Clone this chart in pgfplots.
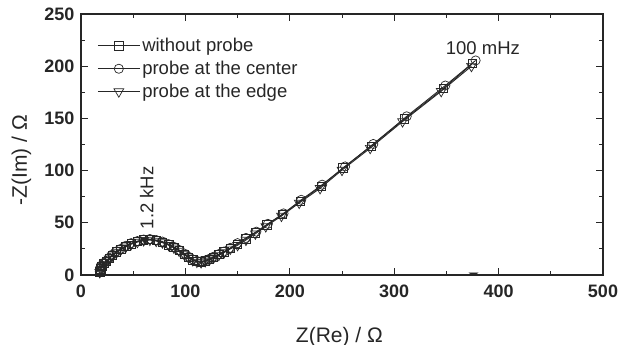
\documentclass[border=0pt]{standalone}
\usepackage{fontspec}
\setmainfont{Liberation Sans}
\usepackage{pgfplots}
\pgfplotsset{compat=1.18}
\definecolor{ink}{gray}{0.15}
\begin{document}
\begin{tikzpicture}
\path[use as bounding box] (-81pt,-70pt) rectangle (537pt,275pt);
\begin{axis}[
  at={(0pt,0pt)}, anchor=south west,
  scale only axis, width=522pt, height=261pt,
  xmin=0, xmax=500, ymin=0, ymax=250,
  xtick={0,100,...,500}, ytick={0,50,...,250},
  minor x tick num=1, minor y tick num=1,
  tick align=inside,
  major tick length=7pt, minor tick length=4pt,
  axis line style={line width=1.1pt, ink},
  every tick/.style={line width=1pt, ink},
  /pgf/number format/assume math mode=true,
  ticklabel style={font=\fontsize{18}{18}\selectfont\bfseries, text=ink},
  xticklabel style={yshift=-6pt},
  yticklabel style={xshift=-3pt},
  label style={font=\fontsize{21}{22}\selectfont, text=ink},
  xlabel={Z(Re) / Ω},
  ylabel={-Z(Im) / Ω},
  xlabel style={at={(axis description cs:0.495,-0.257)}, anchor=base},
  ylabel style={at={(axis description cs:-0.114,0.44)}, anchor=center},
  clip=false,
  legend cell align=left,
  legend style={draw=none, fill=none, at={(axis description cs:0.031,0.915)}, anchor=north west,
    font=\fontsize{18.5}{18}\selectfont, text=ink, inner sep=0pt, row sep=4pt,
    legend image code/.code={\draw[#1, mark repeat=2, mark phase=2] plot coordinates {(0pt,0pt) (21pt,0pt) (42pt,0pt)};}},
]
\addplot[ink, line width=0.9pt, mark=square, mark size=4.2pt, mark options={solid, line width=0.7pt, fill=white}] coordinates {
(18,3) (19,6) (20,8.5) (22,11) (24,13) (27,16) (30,19) (34,22) (38,24.5) (43,27.5) (48,30) (54,32) (60,33.5) (66,34) (72,33) (78,31.5) (84,29) (89,26.5) (94,23.5) (99,20) (103,17) (107,14.5) (111,13) (115,12.5) (119,13.5) (123,15) (127,17) (132,19.5) (137,22) (143,25.5) (150,29.5) (158,34.5) (167,40.5) (178,48) (193,58) (210,70.5) (230,85) (251,102.5) (278,123.5) (310,149.5) (347,178.5) (375,202.5)
};
\addlegendentry{without probe}
\addplot[ink, line width=0.9pt, mark=o, mark size=4.6pt, mark options={solid, line width=0.7pt, fill=white}] coordinates {
(18,3.5) (19,6.5) (20,9) (22,11.5) (24,13.5) (27,16.5) (30,19.5) (34,22.5) (38,25) (43,28) (48,30.5) (54,32.5) (60,34) (66,34.5) (72,33.5) (78,32) (84,29.5) (89,27) (94,24) (99,20.5) (103,17.5) (107,15) (111,13.5) (115,13) (119,14) (123,15.5) (127,17.5) (132,20) (137,22.5) (143,26) (150,30.5) (158,35.5) (168,41.5) (179,49) (194,59) (211,72) (231,86.5) (253,104) (280,125.5) (312,152) (349,181.5) (378,205.5)
};
\addlegendentry{probe at the center}
\addplot[ink, line width=0.9pt, mark=triangle, mark size=5.6pt, mark options={solid, rotate=180, line width=0.7pt, fill=white}] coordinates {
(18,2.5) (19,5.5) (20,8) (22,10.5) (24,12.5) (27,15.5) (30,18.5) (34,21.5) (38,24) (43,27) (48,29.5) (54,31.5) (60,33) (66,33.5) (72,32.5) (78,31) (84,28.5) (89,26) (94,23) (99,19.5) (103,16.5) (107,14) (111,12.5) (115,12) (119,13) (123,14.5) (127,16.5) (132,19) (137,21.5) (143,25) (150,28.5) (158,33.5) (167,39.5) (177,46.5) (192,56.5) (209,69) (229,83) (250,100.5) (277,121.5) (308,147) (345,176) (374,200)
};
\addlegendentry{probe at the edge}
\addplot[only marks, ink, mark=triangle*, mark size=4.5pt, mark options={rotate=180, fill=ink}, forget plot] coordinates {(61,34)};
\addplot[only marks, ink, mark=triangle*, mark size=5pt, mark options={rotate=180, yscale=0.35, fill=ink}, forget plot] coordinates {(376,1.2)};
\node[font=\fontsize{18.5}{18}\selectfont, text=ink] at (axis cs:385,217) {100 mHz};
\node[font=\fontsize{18.5}{18}\selectfont, text=ink, rotate=90] at (axis cs:63,74) {1.2 kHz};
\end{axis}
\end{tikzpicture}
\end{document}
